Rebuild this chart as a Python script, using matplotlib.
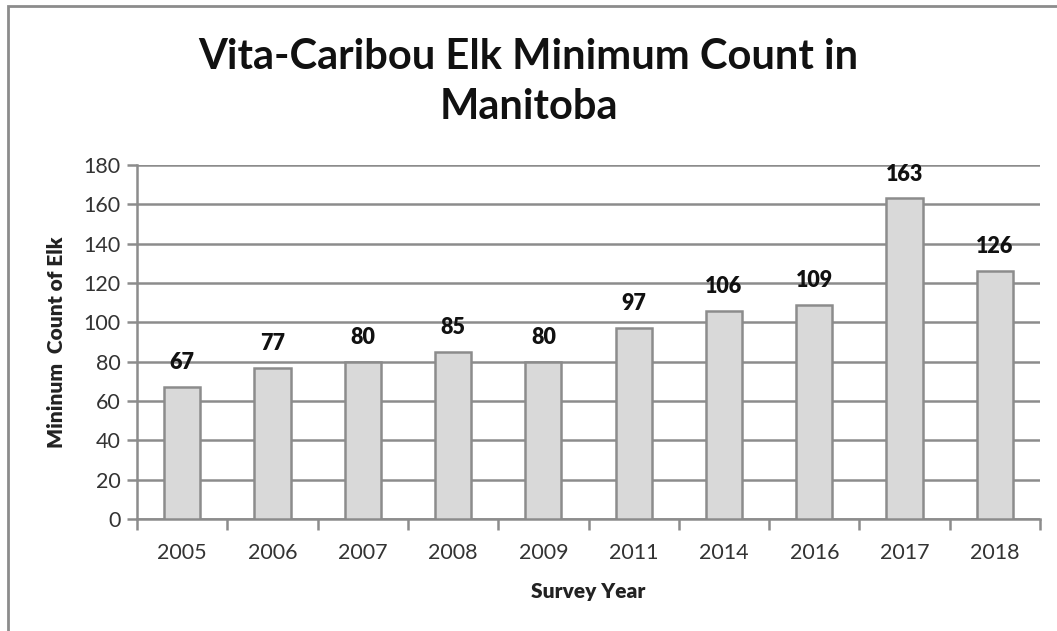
import matplotlib
matplotlib.use("Agg")
import matplotlib.pyplot as plt
from matplotlib.patches import Rectangle

years = ["2005", "2006", "2007", "2008", "2009", "2011", "2014", "2016", "2017", "2018"]
counts = [67, 77, 80, 85, 80, 97, 106, 109, 163, 126]
yticks = [0, 20, 40, 60, 80, 100, 120, 140, 160, 180]

plt.rcParams["font.family"] = ["Lato", "DejaVu Sans"]
W, H = 1057, 631
fig = plt.figure(figsize=(W / 100, H / 100), dpi=100)
ax = fig.add_axes([137 / W, 1 - 519 / H, (1040 - 137) / W, (519 - 165) / H])

grey = "#8c8c8c"
x = list(range(len(years)))
ax.bar(x, counts, width=0.4, color="#d9d9d9", edgecolor=grey, linewidth=1.8, zorder=3)
for xi, v in zip(x, counts):
    ax.text(xi, v + 7, str(v), ha="center", va="bottom", fontsize=15.5,
            fontweight="heavy", color="#111111", zorder=4)

ax.set_xlim(-0.5, len(years) - 0.5)
ax.set_ylim(0, 180)
ax.set_yticks(yticks)
ax.yaxis.grid(True, color=grey, linewidth=1.8, zorder=0)
ax.set_axisbelow(True)

ax.set_xticks([i - 0.5 for i in range(len(years) + 1)], minor=False)
ax.set_xticklabels([])
ax.set_xticks(x, minor=True)
ax.set_xticklabels(years, minor=True, fontsize=15.5, color="#333333")
ax.tick_params(axis="x", which="major", length=8, width=1.8, color=grey, direction="out")
ax.tick_params(axis="x", which="minor", length=0, pad=17)
ax.tick_params(axis="y", length=7, width=1.8, color=grey, labelsize=15.5,
               labelcolor="#333333", pad=5)

for s in ["top", "right"]:
    ax.spines[s].set_visible(False)
for s in ["left", "bottom"]:
    ax.spines[s].set_color(grey)
    ax.spines[s].set_linewidth(1.8)

ax.set_xlabel("Survey Year", fontsize=15, fontweight="heavy", color="#222222", labelpad=14)
ax.set_ylabel("Mininum  Count of Elk", fontsize=15, fontweight="heavy", color="#222222", labelpad=12)

fig.text(0.5, 1 - 57 / H, "Vita-Caribou Elk Minimum Count in", ha="center", va="center",
         fontsize=30, fontweight="bold", color="#111111")
fig.text(0.5, 1 - 107 / H, "Manitoba", ha="center", va="center",
         fontsize=30, fontweight="bold", color="#111111")

fig.patches.append(Rectangle((8 / W, -0.1), 1.2, 1 - 6 / H + 0.1, transform=fig.transFigure,
                             fill=False, edgecolor="#8c8c8c", linewidth=2))

fig.savefig("out.png", dpi=100)
